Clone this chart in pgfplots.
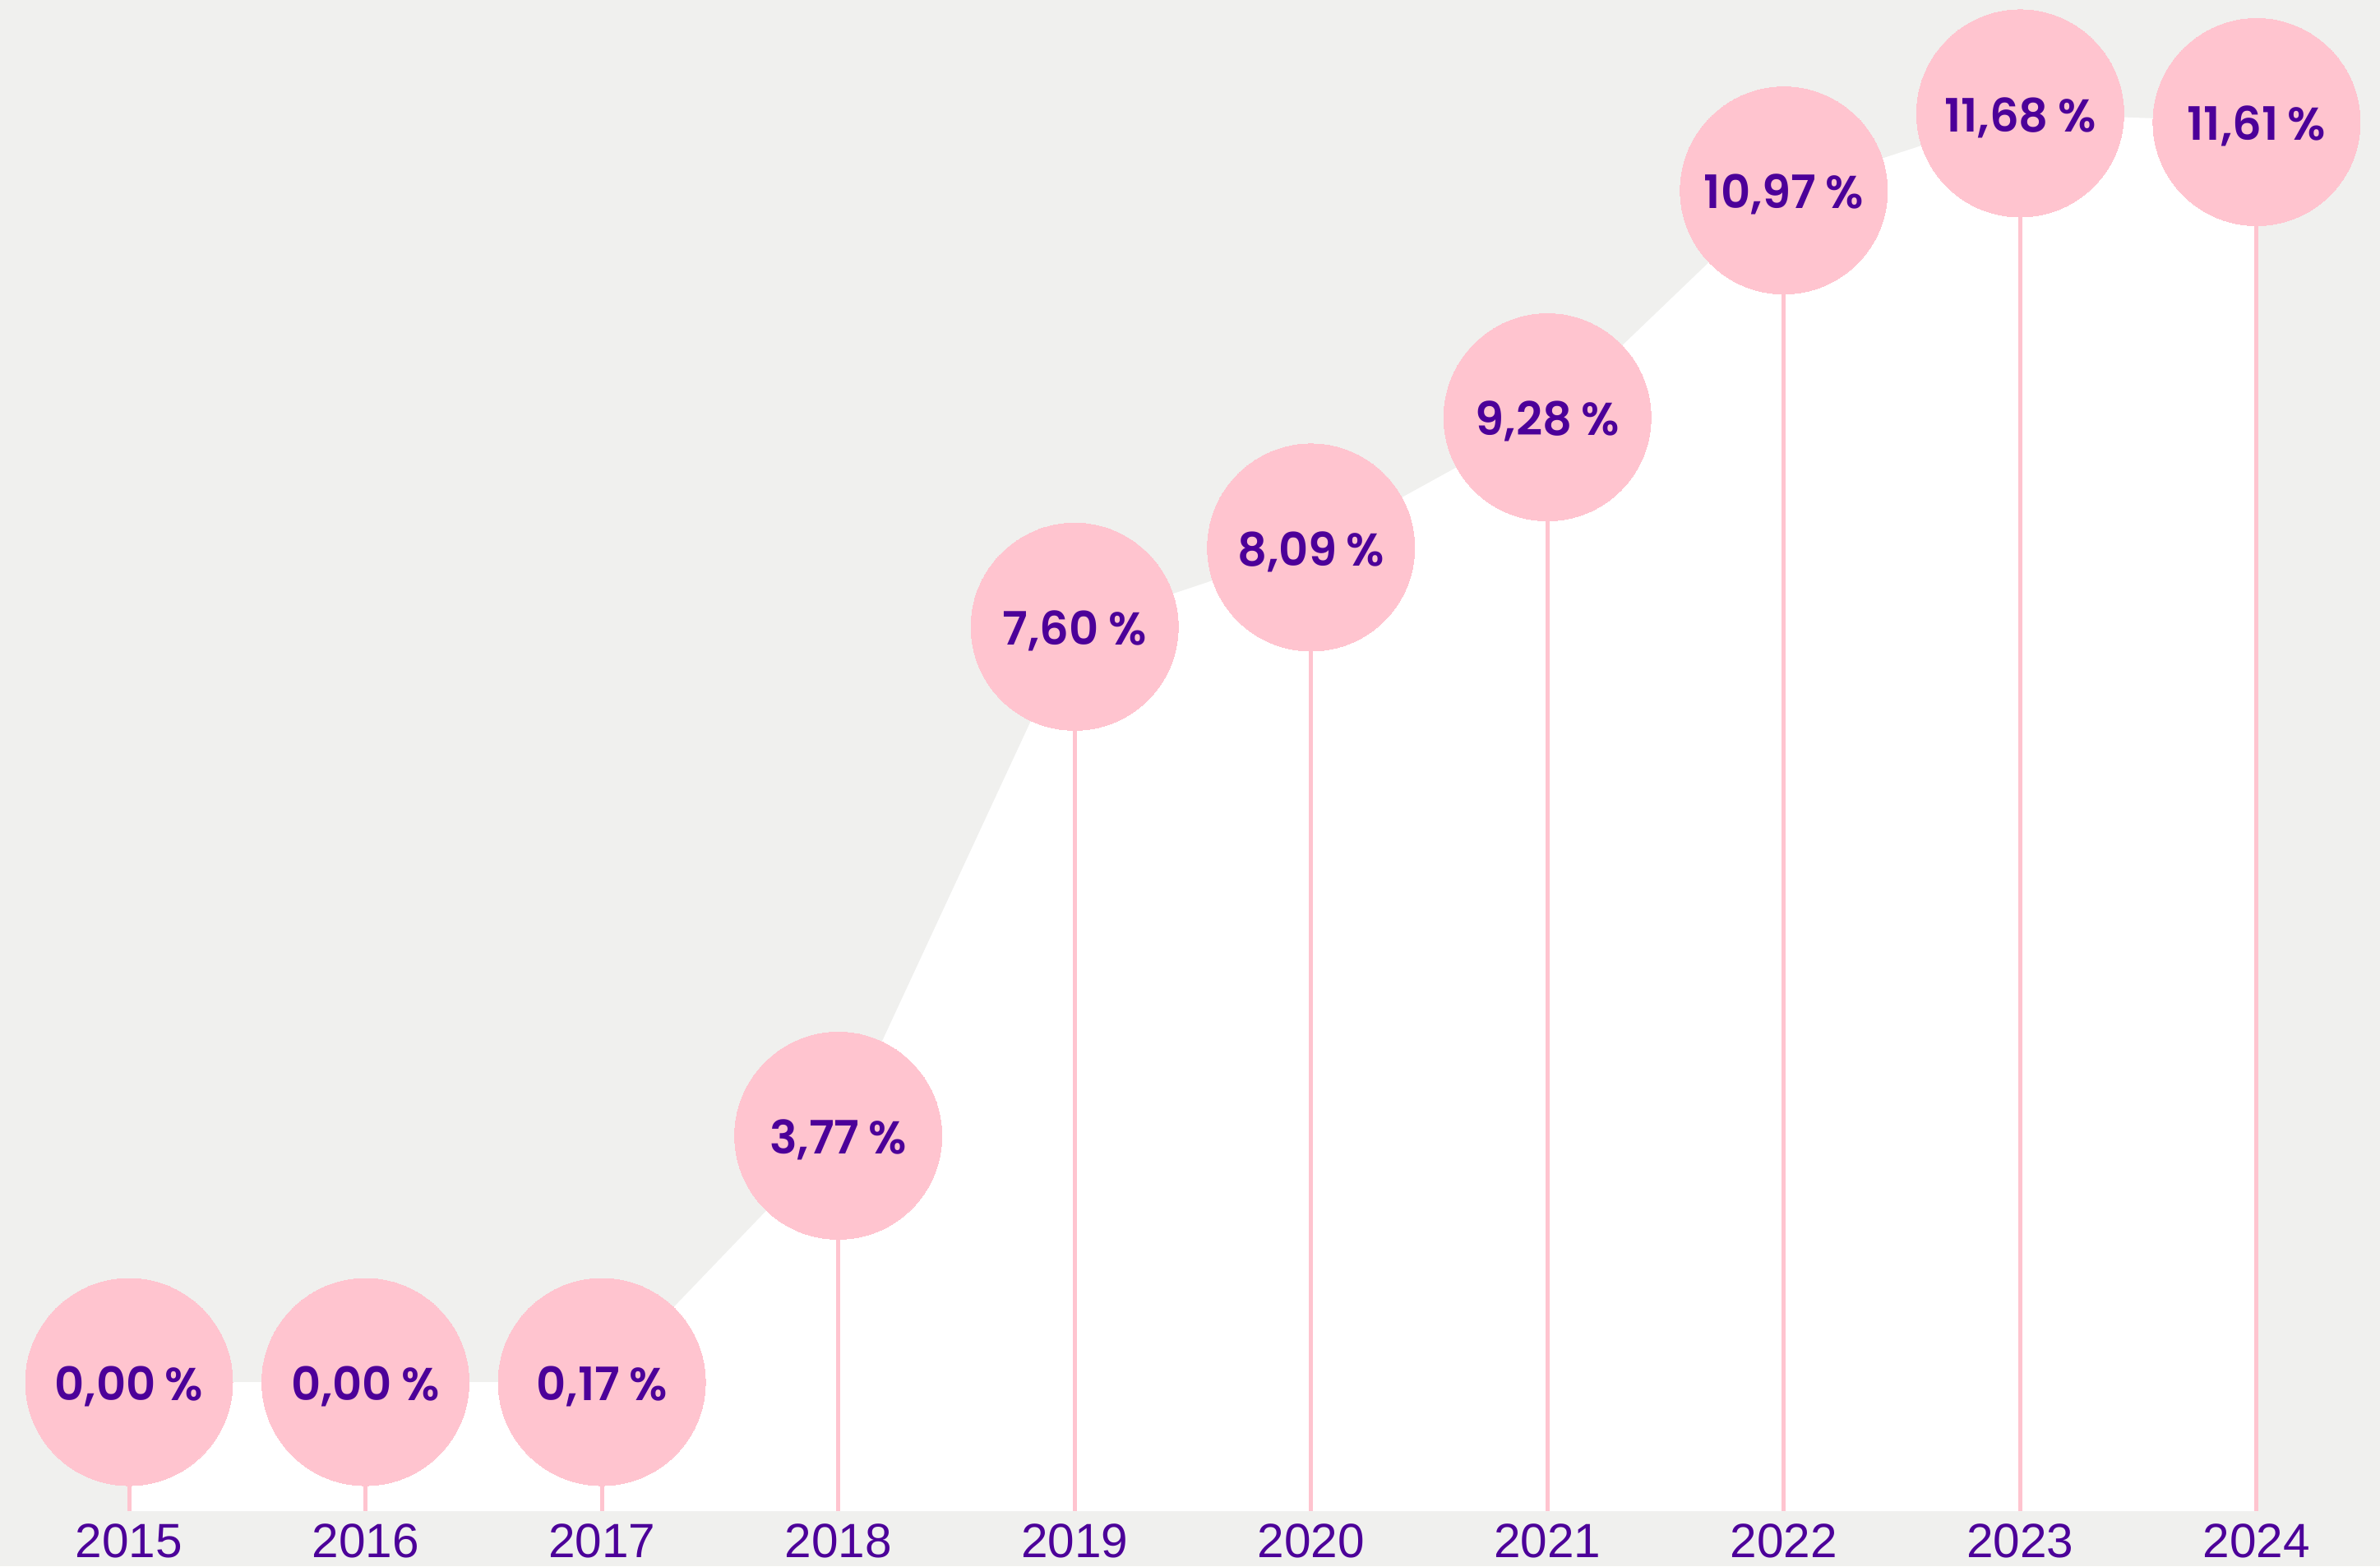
\documentclass[border=0pt]{standalone}
\usepackage{pgfplots}
\usepackage{pgfplotstable}
\pgfplotsset{compat=1.18}
\usepackage{fontspec}
\setmainfont{Liberation Sans}
\newfontfamily\pop{Poppins}[BoldFont={Poppins SemiBold}]
\definecolor{bgc}{RGB}{240,240,238}
\definecolor{pinkc}{RGB}{255,196,207}
\definecolor{purp}{RGB}{76,0,153}
% y = plotted position of each point (as drawn in the chart)
\pgfplotstableread{
x y
2015 0.00
2016 0.00
2017 0.00
2018 2.27
2019 6.96
2020 7.69
2021 8.89
2022 10.98
2023 11.69
2024 11.61
}\data
\begin{document}
\begin{tikzpicture}
\fill[bgc] (0pt,-13.4pt) rectangle (579pt,367.6pt);
\begin{axis}[
  at={(0pt,0pt)}, anchor=south west,
  scale only axis,
  width=579pt, height=367.6pt,
  xmin=2014.454, xmax=2024.522,
  ymin=-1.189, ymax=12.735,
  axis line style={draw=none},
  major tick length=0pt,
  ytick=\empty,
  xtick={2015,2016,2017,2018,2019,2020,2021,2022,2023,2024},
  xticklabels={2015,2016,2017,2018,2019,2020,2021,2022,2023,2024},
  xticklabel style={anchor=north, inner sep=0pt, yshift=-3pt, font=\fontsize{11.7}{12}\selectfont, text=purp},
  clip=false,
]
\addplot[fill=white, draw=none] coordinates {(2015,-1.189) (2015,0) (2016,0) (2017,0) (2018,2.27) (2019,6.96) (2020,7.69) (2021,8.89) (2022,10.98) (2023,11.69) (2024,11.61) (2024,-1.189)} -- cycle;
\addplot[draw=none, mark=none, forget plot,
  error bars/.cd, y dir=minus, y explicit, error mark=none,
  error bar style={line width=1pt, pinkc}]
  table[x=x, y=y, y error expr=\thisrow{y}+1.189] {\data};
\addplot[only marks, color=pinkc, mark=*, mark size=25.2pt, mark options={fill=pinkc, draw=pinkc, line width=0pt},
  point meta=explicit symbolic,
  nodes near coords,
  nodes near coords style={anchor=center, text=purp, font=\pop\bfseries\fontsize{11.2}{12}\selectfont, yshift=-1pt}]
  coordinates {
  (2015,0.00) [0,00\hspace{0.2em}\%]
  (2016,0.00) [0,00\hspace{0.2em}\%]
  (2017,0.00) [0,17\hspace{0.2em}\%]
  (2018,2.27) [3,77\hspace{0.2em}\%]
  (2019,6.96) [7,60\hspace{0.2em}\%]
  (2020,7.69) [8,09\hspace{0.2em}\%]
  (2021,8.89) [9,28\hspace{0.2em}\%]
  (2022,10.98) [10,97\hspace{0.2em}\%]
  (2023,11.69) [11,68\hspace{0.2em}\%]
  (2024,11.61) [11,61\hspace{0.2em}\%]
  };
\end{axis}
\pgfresetboundingbox
\useasboundingbox (0pt,-13.4pt) rectangle (579pt,367.6pt);
\end{tikzpicture}
\end{document}
